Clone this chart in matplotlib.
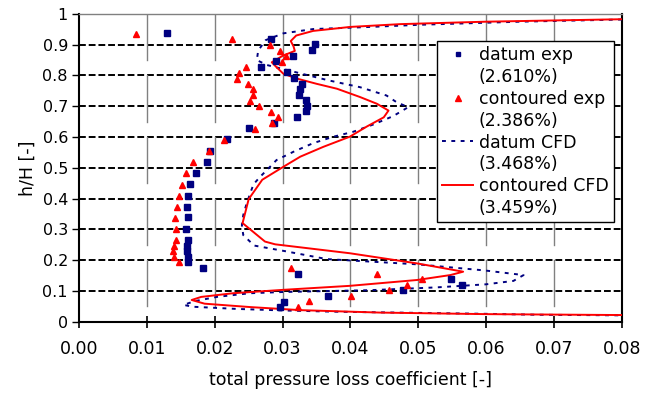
import matplotlib
matplotlib.use("Agg")
import matplotlib.pyplot as plt
from matplotlib.lines import Line2D
import numpy as np

plt.rcParams['font.family'] = ['DejaVu Sans']

# datum experiment (navy squares)
datum_exp_h = [0.937, 0.919, 0.901, 0.882, 0.863, 0.846, 0.828, 0.810, 0.792, 0.773,
               0.755, 0.737, 0.719, 0.701, 0.684, 0.664, 0.647, 0.628, 0.593, 0.555,
               0.519, 0.483, 0.447, 0.409, 0.373, 0.339, 0.301, 0.265, 0.247, 0.229,
               0.211, 0.193, 0.174, 0.155, 0.137, 0.120, 0.101, 0.083, 0.064, 0.047]
datum_exp_x = [0.0130, 0.0283, 0.0348, 0.0343, 0.0316, 0.0290, 0.0268, 0.0306, 0.0317, 0.0328,
               0.0325, 0.0324, 0.0334, 0.0336, 0.0335, 0.0321, 0.0288, 0.0251, 0.0218, 0.0193,
               0.0188, 0.0173, 0.0163, 0.0160, 0.0159, 0.0160, 0.0157, 0.0160, 0.0159, 0.0159,
               0.0160, 0.0160, 0.0182, 0.0322, 0.0548, 0.0565, 0.0477, 0.0367, 0.0302, 0.0296]

# contoured experiment (red triangles)
cont_exp_h = [0.936, 0.918, 0.899, 0.881, 0.863, 0.845, 0.827, 0.809, 0.790, 0.772,
              0.755, 0.737, 0.718, 0.700, 0.681, 0.664, 0.646, 0.627, 0.591, 0.554,
              0.519, 0.482, 0.445, 0.408, 0.372, 0.338, 0.301, 0.265, 0.247, 0.228,
              0.211, 0.193, 0.174, 0.155, 0.138, 0.120, 0.101, 0.083, 0.066, 0.047]
cont_exp_x = [0.0084, 0.0226, 0.0281, 0.0296, 0.0305, 0.0299, 0.0246, 0.0235, 0.0233, 0.0249,
              0.0257, 0.0256, 0.0252, 0.0265, 0.0283, 0.0293, 0.0284, 0.0259, 0.0214, 0.0192,
              0.0168, 0.0158, 0.0152, 0.0148, 0.0145, 0.0142, 0.0143, 0.0143, 0.0140, 0.0138,
              0.0140, 0.0147, 0.0313, 0.0439, 0.0506, 0.0483, 0.0457, 0.0401, 0.0339, 0.0322]

# datum CFD (navy dotted)
datum_cfd_x = [0.0800, 0.0650, 0.0503, 0.0430, 0.0345, 0.0301, 0.0275, 0.0264, 0.0262, 0.0277,
               0.0326, 0.0368, 0.0414, 0.0453, 0.0468, 0.0485, 0.0463, 0.0434, 0.0404, 0.0375,
               0.0345, 0.0316, 0.0291, 0.0277, 0.0267, 0.0257, 0.0247, 0.0242, 0.0240, 0.0242,
               0.0258, 0.0303, 0.0365, 0.0420, 0.0498, 0.0598, 0.0655, 0.0640, 0.0600, 0.0527,
               0.0430, 0.0301, 0.0252, 0.0203, 0.0170, 0.0154, 0.0168, 0.0232, 0.0300, 0.0375,
               0.0500, 0.0600, 0.0675, 0.0800]
datum_cfd_h = [0.982, 0.975, 0.965, 0.958, 0.951, 0.937, 0.915, 0.881, 0.850, 0.834,
               0.807, 0.784, 0.762, 0.735, 0.713, 0.697, 0.668, 0.641, 0.617, 0.601,
               0.580, 0.552, 0.525, 0.493, 0.471, 0.446, 0.384, 0.346, 0.314, 0.281,
               0.247, 0.229, 0.203, 0.196, 0.186, 0.166, 0.151, 0.132, 0.121, 0.111,
               0.102, 0.096, 0.092, 0.080, 0.066, 0.054, 0.048, 0.041, 0.036, 0.032,
               0.028, 0.025, 0.022, 0.020]

# contoured CFD (red solid)
cont_cfd_x = [0.0800, 0.0600, 0.0473, 0.0400, 0.0345, 0.0320, 0.0312, 0.0316, 0.0318, 0.0300,
              0.0284, 0.0291, 0.0301, 0.0321, 0.0350, 0.0380, 0.0414, 0.0439, 0.0456, 0.0449,
              0.0424, 0.0399, 0.0360, 0.0326, 0.0301, 0.0270, 0.0250, 0.0241, 0.0274, 0.0289,
              0.0399, 0.0498, 0.0566, 0.0547, 0.0498, 0.0399, 0.0301, 0.0227, 0.0180, 0.0166,
              0.0185, 0.0252, 0.0326, 0.0444, 0.0600, 0.0800]
cont_cfd_h = [0.983, 0.975, 0.967, 0.958, 0.945, 0.930, 0.912, 0.895, 0.880, 0.864,
              0.843, 0.827, 0.806, 0.790, 0.773, 0.757, 0.730, 0.708, 0.686, 0.664,
              0.634, 0.601, 0.568, 0.536, 0.503, 0.461, 0.398, 0.320, 0.260, 0.251,
              0.222, 0.189, 0.162, 0.151, 0.135, 0.116, 0.103, 0.092, 0.080, 0.070,
              0.058, 0.047, 0.037, 0.029, 0.024, 0.021]

legend_labels = ["datum exp", "(2.610%)", "contoured exp", "(2.386%)",
                 "datum CFD", "(3.468%)", "contoured CFD", "(3.459%)"]

NAVY = '#000080'
RED = '#FF0000'


def main():
    fig = plt.figure(figsize=(6.6, 3.93), dpi=100)
    ax = fig.add_axes([0.1197, 0.1819, 0.8227, 0.7825])

    ax.set_xlim(0, 0.08)
    ax.set_ylim(0, 1)

    # horizontal dashed grid
    for yv in np.arange(1, 11) / 10:
        ax.axhline(yv, color='black', lw=1.4, dashes=(3.5, 1.5), zorder=1)
    # broken vertical grid
    for xv in np.arange(1, 8) / 100:
        for top in [1.0, 0.8, 0.6, 0.4, 0.2]:
            ax.plot([xv, xv], [top - 0.15, top], color='#808080', lw=1.0, zorder=1)

    ax.plot(datum_cfd_x, datum_cfd_h, color=NAVY, lw=1.4, linestyle=(0, (2.0, 2.8)), zorder=3)
    ax.plot(cont_cfd_x, cont_cfd_h, color=RED, lw=1.4, zorder=4)
    ax.plot(datum_exp_x, datum_exp_h, linestyle='none', marker='s', ms=4.0,
            color=NAVY, zorder=5)
    ax.plot(cont_exp_x, cont_exp_h, linestyle='none', marker='^', ms=4.6,
            color=RED, zorder=5)

    ax.set_xticks(np.arange(0, 9) / 100)
    ax.set_xticklabels(["%.2f" % v for v in np.arange(0, 9) / 100], fontsize=12.5)
    ax.set_yticks(np.arange(0, 11) / 10)
    ax.set_yticklabels(["0"] + ["%.1f" % v for v in np.arange(1, 10) / 10] + ["1"],
                       fontsize=11.5)
    ax.tick_params(axis='x', direction='inout', length=9, width=1.2, pad=9)
    ax.tick_params(axis='y', direction='out', length=5, width=1.0, pad=3)

    for side in ['left', 'bottom', 'right']:
        ax.spines[side].set_linewidth(1.5)
        ax.spines[side].set_color('black')
    ax.spines['top'].set_linewidth(1.0)
    ax.spines['top'].set_color('#808080')

    ax.set_xlabel("total pressure loss coefficient [-]", fontsize=12.5, labelpad=9)
    ax.set_ylabel("h/H [-]", fontsize=12.5, labelpad=4)

    # two-line legend entries: handle on first line, blank handle on second
    empty = Line2D([], [], linestyle='none', marker='none')
    handles = [
        Line2D([], [], linestyle='none', marker='s', ms=3.5, color=NAVY), empty,
        Line2D([], [], linestyle='none', marker='^', ms=4.0, color=RED), empty,
        Line2D([], [], color=NAVY, lw=1.4, linestyle=(0, (2.0, 2.8))), empty,
        Line2D([], [], color=RED, lw=1.4), empty,
    ]
    leg = ax.legend(handles, legend_labels, loc='upper right',
                    bbox_to_anchor=(0.985, 0.912), borderaxespad=0,
                    fontsize=12.5, frameon=True, fancybox=False,
                    handlelength=1.75, handletextpad=0.35, labelspacing=0.22,
                    borderpad=0.3)
    leg.get_frame().set_edgecolor('black')
    leg.get_frame().set_linewidth(1.0)
    leg.get_frame().set_alpha(1)
    leg.set_zorder(10)

    fig.savefig("out.png", dpi=100)
    print("Done")


if __name__ == "__main__":
    main()
